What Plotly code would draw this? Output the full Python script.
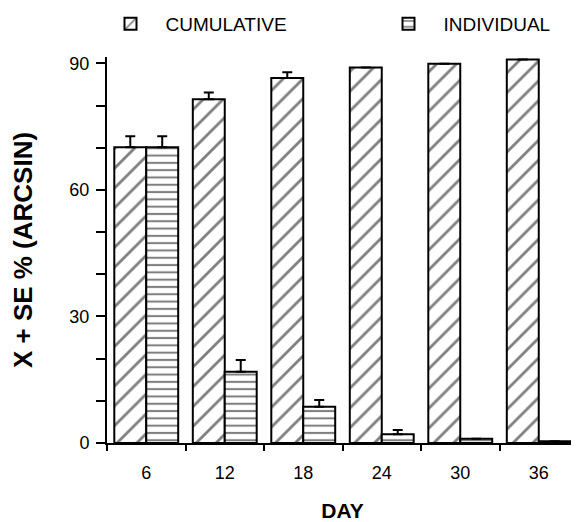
import plotly.graph_objects as go

days = ["6", "12", "18", "24", "30", "36"]
cumulative = [70.1, 81.5, 86.5, 89.0, 89.9, 90.9]
cumulative_se = [2.6, 1.6, 1.4, 0.0, 0.0, 0.0]
individual = [70.1, 16.9, 8.6, 2.1, 1.0, 0.4]
individual_se = [2.6, 2.8, 1.6, 1.0, 0.0, 0.0]

xpos = list(range(len(days)))

fig = go.Figure()
fig.add_trace(go.Bar(
    name="CUMULATIVE", x=xpos, y=cumulative, legend="legend",
    marker=dict(color="white", line=dict(color="black", width=2),
                pattern=dict(shape="/", size=14, solidity=0.2, fgcolor="black", bgcolor="white")),
    error_y=dict(type="data", symmetric=False, array=cumulative_se, arrayminus=[0]*6,
                 color="black", thickness=2, width=5),
    cliponaxis=False,
))
fig.add_trace(go.Bar(
    name="INDIVIDUAL", x=xpos, y=individual, legend="legend2",
    marker=dict(color="white", line=dict(color="black", width=2),
                pattern=dict(shape="-", size=7.3, solidity=0.28, fgcolor="black", bgcolor="white")),
    error_y=dict(type="data", symmetric=False, array=individual_se, arrayminus=[0]*6,
                 color="black", thickness=2, width=5),
    cliponaxis=False,
))

W, H = 571, 514
bold = "Liberation Sans, Arial, sans-serif"

fig.update_layout(
    width=W, height=H,
    margin=dict(l=99, r=1, t=49, b=79, autoexpand=False),
    paper_bgcolor="white", plot_bgcolor="white",
    barmode="group", bargap=0.186, bargroupgap=0,
    font=dict(family="Liberation Sans, Arial, sans-serif", color="black", size=17),
    showlegend=True,
    legend=dict(orientation="h", xref="container", x=87.5/W, xanchor="left",
                yref="container", y=1 - 16/H, yanchor="middle",
                font=dict(size=19), itemwidth=60, bgcolor="rgba(0,0,0,0)"),
    legend2=dict(orientation="h", xref="container", x=365.5/W, xanchor="left",
                 yref="container", y=1 - 16/H, yanchor="middle",
                 font=dict(size=19), itemwidth=60, bgcolor="rgba(0,0,0,0)"),
    xaxis=dict(range=[-0.5, 5.5], tickmode="array", tickvals=xpos, ticktext=days,
               ticks="outside", ticklen=0, showgrid=False, zeroline=False,
               showline=True, linecolor="black", linewidth=2,
               tickfont=dict(size=18), ticklabelstandoff=12,
               minor=dict(tick0=-0.5, dtick=1, ticks="outside", ticklen=6,
                          tickcolor="black", tickwidth=2, showgrid=False),
               title=dict(text="DAY", standoff=22,
                          font=dict(family=bold, size=21, weight="bold"))),
    yaxis=dict(range=[0, 91.5], tickmode="array", tickvals=[0, 30, 60, 90],
               ticks="outside", ticklen=9, tickwidth=2, tickcolor="black",
               showgrid=False, zeroline=False, showline=True, linecolor="black", linewidth=2,
               tickfont=dict(size=18), ticklabelstandoff=3,
               minor=dict(tick0=0, dtick=10, ticks="outside", ticklen=9,
                          tickcolor="black", tickwidth=2, showgrid=False),
               title=dict(text="X + SE % (ARCSIN)", standoff=34,
                          font=dict(family=bold, size=26, weight="bold"))),
)

fig.write_html("out.html")
